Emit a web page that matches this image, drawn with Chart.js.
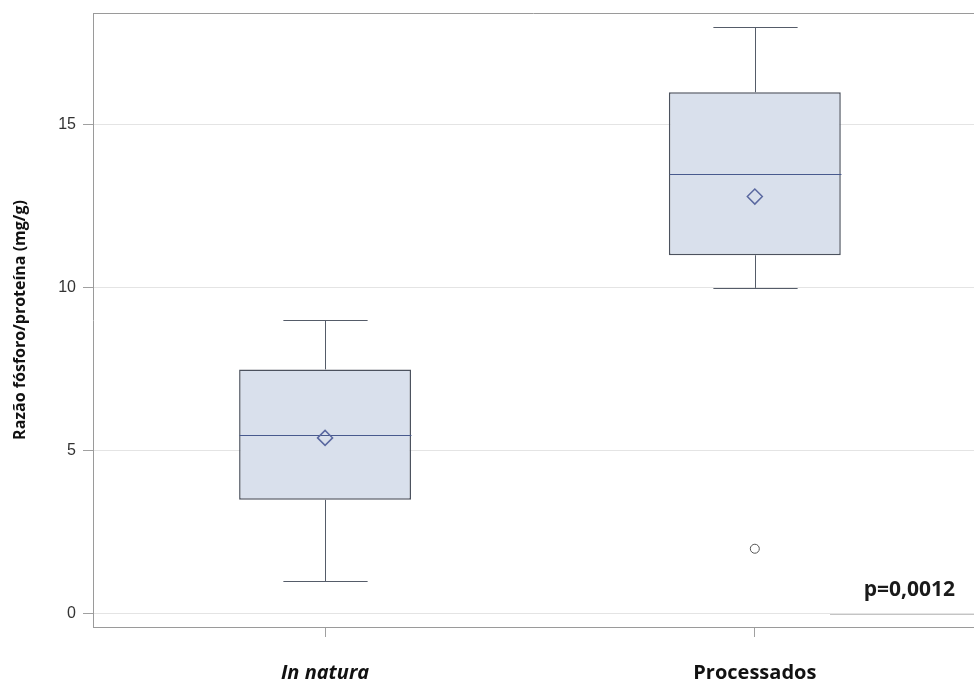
<!DOCTYPE html>
<html>
<head>
<meta charset="utf-8">
<script src="https://cdn.jsdelivr.net/npm/chart.js@4.4.0/dist/chart.umd.min.js"></script>
<style>
  html, body { margin: 0; padding: 0; background: #fff; }
</style>
</head>
<body>
<canvas id="boxChart" width="974" height="683"></canvas>
<script>
// box plot summary per group
const groups = ["In natura", "Processados"];
const whiskerLow = [1, 10];
const q1 = [3.5, 11];
const median = [5.5, 13.5];
const q3 = [7.5, 16];
const whiskerHigh = [9, 18];
const means = [5.4, 12.8];
const outliers = [[], [2]];
const yTicks = [0, 5, 10, 15];
const pValue = "p=0,0012";

const crisp = v => Math.round(v) + 0.5;

// whiskers, caps and median lines, drawn right after the boxes
const boxParts = {
  id: 'boxParts',
  afterDatasetDraw(chart, args) {
    if (args.index !== 0) return;
    const ctx = chart.ctx;
    const xs = chart.scales.x, ys = chart.scales.y;
    const bars = args.meta.data;
    ctx.save();
    ctx.lineWidth = 1;
    groups.forEach((g, i) => {
      const cx = crisp(xs.getPixelForValue(i + 1));
      const half = bars[i].width / 2;
      const cap = half * 0.49;
      ctx.strokeStyle = '#555c69';
      ctx.beginPath();
      ctx.moveTo(cx, ys.getPixelForValue(q3[i]));
      ctx.lineTo(cx, ys.getPixelForValue(whiskerHigh[i]));
      ctx.moveTo(cx, ys.getPixelForValue(q1[i]));
      ctx.lineTo(cx, ys.getPixelForValue(whiskerLow[i]));
      const top = crisp(ys.getPixelForValue(whiskerHigh[i]));
      const bot = crisp(ys.getPixelForValue(whiskerLow[i]));
      ctx.moveTo(cx - cap, top); ctx.lineTo(cx + cap, top);
      ctx.moveTo(cx - cap, bot); ctx.lineTo(cx + cap, bot);
      ctx.stroke();
      ctx.strokeStyle = '#485a8e';
      ctx.lineWidth = 1.2;
      const my = crisp(ys.getPixelForValue(median[i]));
      ctx.beginPath();
      ctx.moveTo(cx - half, my);
      ctx.lineTo(cx + half, my);
      ctx.stroke();
      ctx.lineWidth = 1;
    });
    ctx.restore();
  },
  afterDraw(chart) {
    const ctx = chart.ctx;
    const a = chart.chartArea;
    ctx.save();
    // frame top
    ctx.strokeStyle = '#9a9a9a';
    ctx.lineWidth = 1;
    ctx.beginPath();
    ctx.moveTo(a.left, crisp(a.top));
    ctx.lineTo(a.right, crisp(a.top));
    ctx.stroke();
    // p-value note
    const y0 = crisp(chart.scales.y.getPixelForValue(0));
    ctx.strokeStyle = '#c4c4c4';
    ctx.beginPath();
    ctx.moveTo(a.right - 144, y0);
    ctx.lineTo(a.right, y0);
    ctx.stroke();
    ctx.fillStyle = '#1a1a1a';
    ctx.font = 'bold 21px "Open Sans"';
    ctx.textAlign = 'right';
    ctx.textBaseline = 'alphabetic';
    ctx.fillText(pValue, a.right - 19, y0 - 19);
    ctx.restore();
  }
};

const outlierPoints = [];
outliers.forEach((list, i) => list.forEach(v => outlierPoints.push({ x: i + 1, y: v })));

new Chart(document.getElementById('boxChart'), {
  type: 'bar',
  data: {
    datasets: [{
      label: 'box',
      order: 2,
      data: groups.map((g, i) => ({ x: i + 1, y: [q1[i], q3[i]] })),
      backgroundColor: '#d9e0ec',
      borderColor: '#4c525e',
      borderWidth: 1.5,
      borderSkipped: false,
      categoryPercentage: 1,
      barPercentage: 0.4
    }, {
      type: 'scatter',
      label: 'mean',
      order: 1,
      data: means.map((m, i) => ({ x: i + 1, y: m })),
      pointStyle: 'rectRot',
      pointRadius: 7.5,
      pointBorderColor: '#5a68a0',
      pointBackgroundColor: 'rgba(0,0,0,0)',
      pointBorderWidth: 1.5
    }, {
      type: 'scatter',
      label: 'outlier',
      order: 0,
      data: outlierPoints,
      pointStyle: 'circle',
      pointRadius: 4.5,
      pointBorderColor: '#555555',
      pointBackgroundColor: '#ffffff',
      pointBorderWidth: 1
    }]
  },
  options: {
    responsive: false,
    animation: false,
    layout: { autoPadding: false, padding: { top: 13, left: 0, right: 0, bottom: 0 } },
    plugins: {
      legend: { display: false },
      tooltip: { enabled: false }
    },
    scales: {
      x: {
        type: 'linear',
        min: 0.46,
        max: 2.51,
        offset: false,
        afterBuildTicks: s => { s.ticks = groups.map((g, i) => ({ value: i + 1 })); },
        afterFit: s => { s.height = 56; s.paddingLeft = 0; s.paddingRight = 0; },
        grid: { offset: false, drawOnChartArea: false, tickLength: 10, tickColor: '#a0a0a0' },
        border: { color: '#9a9a9a' },
        ticks: {
          padding: 24,
          color: '#111',
          font: c => ({ family: 'Open Sans', size: 20, weight: 'bold', style: c.index === 0 ? 'italic' : 'normal' }),
          callback: v => groups[v - 1]
        }
      },
      y: {
        min: -0.4,
        max: 18.43,
        afterBuildTicks: s => { s.ticks = yTicks.map(v => ({ value: v })); },
        afterFit: s => { s.width = 93; s.paddingTop = 0; s.paddingBottom = 0; },
        grid: { color: '#e4e4e4', tickLength: 10, tickColor: '#a0a0a0' },
        border: { color: '#9a9a9a' },
        ticks: {
          padding: 7,
          color: '#333',
          font: { family: 'Liberation Sans', size: 16 }
        },
        title: {
          display: true,
          text: 'Razão fósforo/proteína (mg/g)',
          color: '#111',
          padding: { top: 11, bottom: 0 },
          font: { family: 'Open Sans', size: 16, weight: 'bold' }
        }
      }
    }
  },
  plugins: [boxParts]
});
</script>
</body>
</html>
